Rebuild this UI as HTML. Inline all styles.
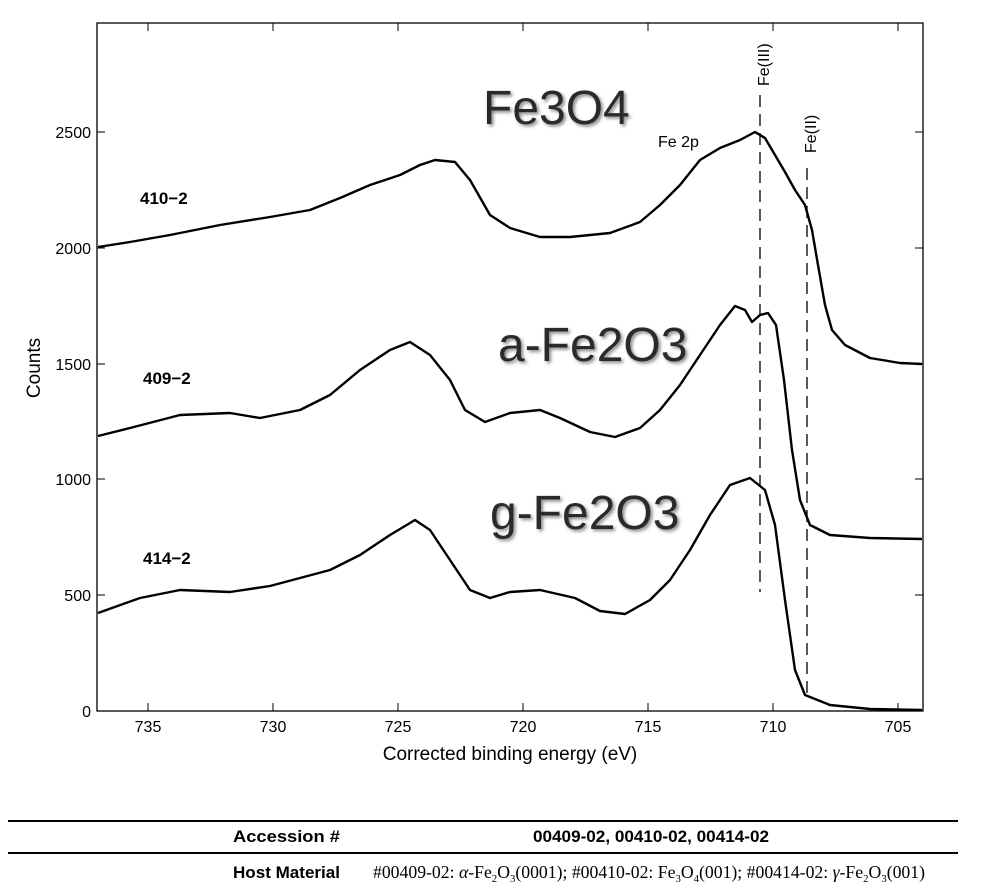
<!DOCTYPE html><html><head><style>body{margin:0;background:#fff;width:982px;height:891px;overflow:hidden}</style></head><body>
<svg width="982" height="891" xmlns="http://www.w3.org/2000/svg" font-family="Liberation Sans, Arial, sans-serif">
<defs><filter id="sh"><feDropShadow dx="2" dy="2" stdDeviation="1.5" flood-color="#888"/></filter></defs>
<rect x="97" y="23" width="826" height="688" fill="none" stroke="#000" stroke-width="1.3"/>
<g stroke="#000" stroke-width="1">
<line x1="148" y1="711" x2="148" y2="703"/><line x1="273" y1="711" x2="273" y2="703"/><line x1="398" y1="711" x2="398" y2="703"/><line x1="523" y1="711" x2="523" y2="703"/><line x1="648" y1="711" x2="648" y2="703"/><line x1="773" y1="711" x2="773" y2="703"/><line x1="898" y1="711" x2="898" y2="703"/>
<line x1="148" y1="23" x2="148" y2="31"/><line x1="273" y1="23" x2="273" y2="31"/><line x1="398" y1="23" x2="398" y2="31"/><line x1="523" y1="23" x2="523" y2="31"/><line x1="648" y1="23" x2="648" y2="31"/><line x1="773" y1="23" x2="773" y2="31"/><line x1="898" y1="23" x2="898" y2="31"/>
<line x1="97" y1="595" x2="105" y2="595"/><line x1="97" y1="479" x2="105" y2="479"/><line x1="97" y1="364" x2="105" y2="364"/><line x1="97" y1="248" x2="105" y2="248"/><line x1="97" y1="132" x2="105" y2="132"/>
<line x1="923" y1="595" x2="915" y2="595"/><line x1="923" y1="479" x2="915" y2="479"/><line x1="923" y1="364" x2="915" y2="364"/><line x1="923" y1="248" x2="915" y2="248"/><line x1="923" y1="132" x2="915" y2="132"/>
</g>
<g font-size="16" text-anchor="middle">
<text x="148" y="732">735</text><text x="273" y="732">730</text><text x="398" y="732">725</text><text x="523" y="732">720</text><text x="648" y="732">715</text><text x="773" y="732">710</text><text x="898" y="732">705</text>
</g>
<g font-size="16" text-anchor="end">
<text x="91" y="717">0</text><text x="91" y="601">500</text><text x="91" y="485">1000</text><text x="91" y="370">1500</text><text x="91" y="254">2000</text><text x="91" y="138">2500</text>
</g>
<text x="510" y="760" font-size="19" text-anchor="middle">Corrected binding energy (eV)</text>
<text transform="translate(40,368) rotate(-90)" font-size="19" text-anchor="middle">Counts</text>
<g fill="none" stroke="#000" stroke-width="2.4" stroke-linejoin="round">
<polyline points="98,247 130,242 170,235 220,225 270,217 310,210 340,198 370,185 400,175 420,165 435,160 455,162 470,180 490,215 510,228 540,237 570,237 610,233 640,222 660,205 680,185 700,160 720,148 740,140 755,132 765,138 775,155 785,172 795,190 805,205 812,230 818,265 825,305 832,330 845,345 870,358 900,363 922,364"/>
<polyline points="98,436 130,428 180,415 230,413 260,418 300,410 330,395 360,370 390,350 410,342 430,355 450,380 465,410 485,422 510,413 540,410 560,418 590,432 615,437 640,428 660,410 680,385 700,355 720,325 735,306 745,310 752,322 760,315 768,313 776,325 784,380 792,450 800,500 810,525 830,535 870,538 922,539"/>
<polyline points="98,613 140,598 180,590 230,592 270,586 300,578 330,570 360,555 390,535 415,520 430,530 450,560 470,590 490,598 510,592 540,590 575,598 600,611 625,614 650,600 670,580 690,550 710,515 730,485 750,478 765,490 775,525 785,600 795,670 805,695 830,705 870,709 922,710"/>
</g>
<g stroke="#000" stroke-width="1.3" stroke-dasharray="12,7">
<line x1="760" y1="95" x2="760" y2="592"/><line x1="807" y1="168" x2="807" y2="700"/>
</g>
<text transform="translate(769,86) rotate(-90)" font-size="16">Fe(III)</text>
<text transform="translate(816,153) rotate(-90)" font-size="16">Fe(II)</text>
<text x="658" y="147" font-size="16">Fe 2p</text>
<g font-size="17" font-weight="bold"><text x="140" y="204">410−2</text><text x="143" y="384">409−2</text><text x="143" y="564">414−2</text></g>
<g font-size="48" fill="#2a2a2a" filter="url(#sh)"><text x="483" y="124">Fe3O4</text><text x="498" y="361">a-Fe2O3</text><text x="490" y="529">g-Fe2O3</text></g>
<line x1="8" y1="821" x2="958" y2="821" stroke="#000" stroke-width="2"/>
<line x1="8" y1="853" x2="958" y2="853" stroke="#000" stroke-width="2"/>
<text x="233" y="842" font-size="17" font-weight="bold" textLength="107" lengthAdjust="spacingAndGlyphs">Accession #</text>
<text x="533" y="842" font-size="17" font-weight="bold" textLength="236" lengthAdjust="spacingAndGlyphs">00409-02, 00410-02, 00414-02</text>
<text x="233" y="878" font-size="17" font-weight="bold" textLength="107" lengthAdjust="spacingAndGlyphs">Host Material</text>
<text x="373" y="878" font-size="18" font-family="Liberation Serif, serif" textLength="552" lengthAdjust="spacingAndGlyphs">#00409-02: <tspan font-style="italic">α</tspan>-Fe<tspan font-size="11" dy="4">2</tspan><tspan dy="-4">O</tspan><tspan font-size="11" dy="4">3</tspan><tspan dy="-4">(0001); #00410-02: Fe</tspan><tspan font-size="11" dy="4">3</tspan><tspan dy="-4">O</tspan><tspan font-size="11" dy="4">4</tspan><tspan dy="-4">(001); #00414-02: </tspan><tspan font-style="italic">γ</tspan>-Fe<tspan font-size="11" dy="4">2</tspan><tspan dy="-4">O</tspan><tspan font-size="11" dy="4">3</tspan><tspan dy="-4">(001)</tspan></text>
</svg>
</body></html>
